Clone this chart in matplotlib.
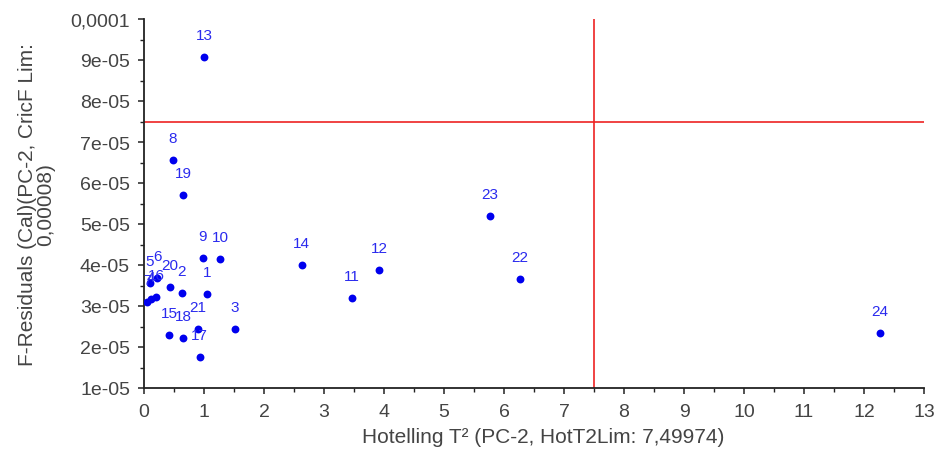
import matplotlib
matplotlib.use("Agg")
import matplotlib.pyplot as plt
from matplotlib.ticker import FixedLocator, FixedFormatter, MultipleLocator

plt.rcParams['font.family'] = ['Liberation Sans', 'DejaVu Sans']

# Sample labels and their Hotelling T² / F-residual values
sample_ids = [str(i) for i in range(1, 25)]
hotelling_t2 = [1.05, 0.63, 1.52, 0.12, 0.10, 0.22, 0.05, 0.48, 0.98, 1.27,
                3.47, 3.92, 1.00, 2.63, 0.42, 0.20, 0.93, 0.65, 0.65, 0.43,
                0.90, 6.27, 5.77, 12.27]
f_residuals = [3.29e-05, 3.32e-05, 2.44e-05, 3.17e-05, 3.56e-05, 3.68e-05,
               3.10e-05, 6.56e-05, 4.17e-05, 4.15e-05, 3.20e-05, 3.88e-05,
               9.07e-05, 4.00e-05, 2.29e-05, 3.22e-05, 1.76e-05, 2.22e-05,
               5.71e-05, 3.46e-05, 2.44e-05, 3.66e-05, 5.20e-05, 2.34e-05]

hot_t2_limit = 7.49974
f_limit = 7.5e-05

y_ticks = [1e-05, 2e-05, 3e-05, 4e-05, 5e-05, 6e-05, 7e-05, 8e-05, 9e-05, 1e-04]
y_tick_labels = ['1e-05', '2e-05', '3e-05', '4e-05', '5e-05', '6e-05',
                 '7e-05', '8e-05', '9e-05', '0,0001']
x_ticks = list(range(0, 14))

fig = plt.figure(figsize=(9.42, 4.52), dpi=100)
ax = fig.add_axes([144 / 942, 1 - 389 / 452, (924 - 144) / 942, (389 - 20) / 452])

ax.scatter(hotelling_t2, f_residuals, s=32, color='#0000ee', zorder=3,
           linewidths=0)
for lab, x, y in zip(sample_ids, hotelling_t2, f_residuals):
    ax.annotate(lab, (x, y), xytext=(0, 16), textcoords='offset points',
                ha='center', va='center', fontsize=11, color='#2a2aee',
                zorder=4)

ax.axvline(hot_t2_limit, color='#ee2222', lw=1.2, zorder=2)
ax.axhline(f_limit, color='#ee2222', lw=1.2, zorder=2)

ax.set_xlim(0, 13)
ax.set_ylim(1e-05, 1e-04)
ax.xaxis.set_major_locator(FixedLocator(x_ticks))
ax.xaxis.set_minor_locator(MultipleLocator(0.5))
ax.yaxis.set_major_locator(FixedLocator(y_ticks))
ax.yaxis.set_major_formatter(FixedFormatter(y_tick_labels))
ax.yaxis.set_minor_locator(MultipleLocator(5e-06))

for side in ('top', 'right'):
    ax.spines[side].set_visible(False)
for side in ('left', 'bottom'):
    ax.spines[side].set_color('#222222')
    ax.spines[side].set_linewidth(1.3)

ax.tick_params(which='major', direction='out', length=4, width=1.1,
               colors='#222222', labelcolor='#444444', labelsize=14)
ax.tick_params(axis='y', which='major', pad=6)
ax.tick_params(axis='x', which='major', pad=7)
ax.tick_params(which='minor', direction='out', length=3, width=1.0,
               colors='#222222')

ax.set_xlabel('Hotelling T² (PC-2, HotT2Lim: 7,49974)', fontsize=15,
              color='#444444')
ax.xaxis.set_label_coords(0.512, -0.105)
ax.set_ylabel('F-Residuals (Cal)(PC-2, CricF Lim:\n0,00008)', fontsize=15,
              color='#444444', linespacing=0.95)
ax.yaxis.set_label_coords(-0.114, 0.5)

fig.savefig('out.png', dpi=100)
